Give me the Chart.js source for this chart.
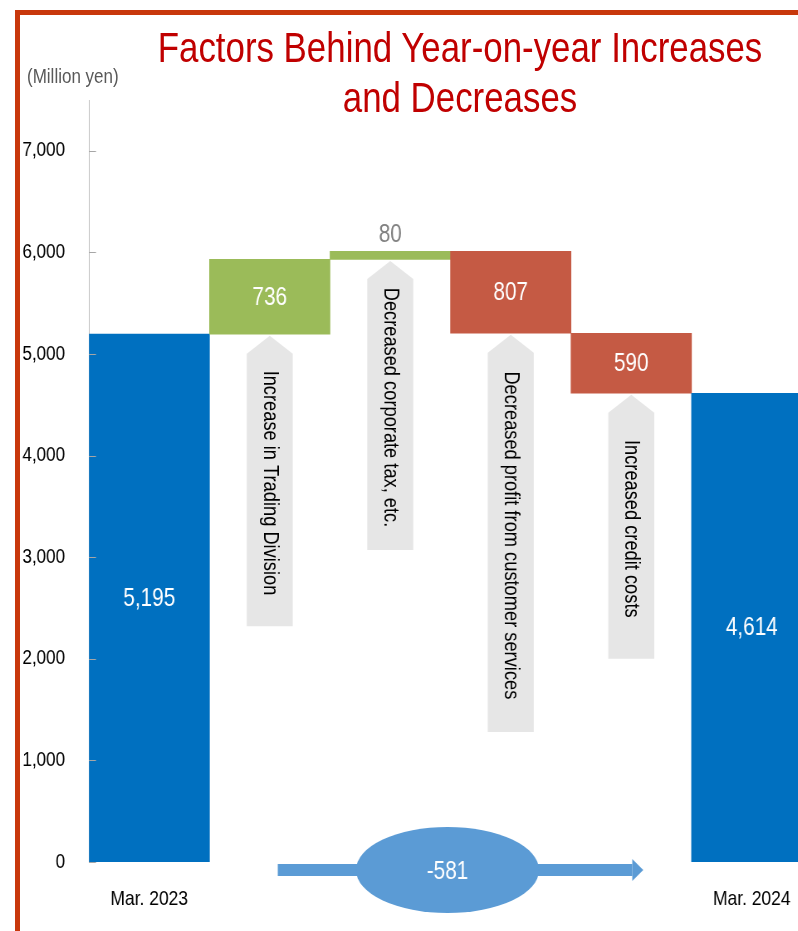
<!DOCTYPE html>
<html>
<head>
<meta charset="utf-8">
<title>Factors Behind Year-on-year Increases and Decreases</title>
<script src="https://cdn.jsdelivr.net/npm/chart.js@4.4.1/dist/chart.umd.min.js"></script>
<style>
  html, body { margin: 0; padding: 0; background: #fff; overflow: hidden; }
  #wrap { position: relative; width: 798px; height: 931px; overflow: hidden; }
  #frame-top { position: absolute; left: 15px; top: 10px; right: 0; height: 5px; background: #C8380C; }
  #frame-left { position: absolute; left: 15px; top: 10px; bottom: 0; width: 5px; background: #C8380C; }
  #title {
    position: absolute; left: 60px; width: 800px; top: 23px;
    text-align: center; white-space: nowrap; color: #C00000;
    font: 42px/50px "Liberation Sans", Arial, sans-serif;
    transform: scaleX(0.83); transform-origin: 400px 0;
  }
  #unit {
    position: absolute; left: 27px; top: 66px; color: #595959; white-space: nowrap;
    font: 20.5px/20px "Liberation Sans", Arial, sans-serif;
    transform: scaleX(0.83); transform-origin: 0 0;
  }
  #grafico { position: absolute; left: 0; top: 0; }
</style>
</head>
<body>
<div id="wrap">
  <!-- canvas is drawn wider and squeezed back to 812px: gives the narrow-font look -->
  <canvas id="grafico" width="978" height="931" style="width: 812px; height: 931px;"></canvas>
  <div id="frame-top"></div>
  <div id="frame-left"></div>
  <div id="title">Factors Behind Year-on-year Increases<br>and Decreases</div>
  <div id="unit">(Million yen)</div>
</div>
<script>
const categories = [
  "Mar. 2023",
  "Increase in Trading Division",
  "Decreased corporate tax, etc.",
  "Decreased profit from customer services",
  "Increased credit costs",
  "Mar. 2024"
];
const amounts = [5195, 736, 80, 807, 590, 4614];
const kinds = ["total", "up", "up", "down", "down", "total"];
const yTicks = [0, 1000, 2000, 3000, 4000, 5000, 6000, 7000];
const netChange = -581;

const K = 812 / 978;   // horizontal squeeze of the canvas
const FONT = "'Liberation Sans', Arial, sans-serif";
const cores = { total: "#0070C0", up: "#9BBB59", down: "#C55A44" };

// floating bars: each step starts where the previous one ended
let nivel = 0;
const ranges = amounts.map((v, i) => {
  if (kinds[i] === "total") { nivel = v; return [0, v]; }
  const de = nivel;
  nivel = kinds[i] === "up" ? nivel + v : nivel - v;
  return [Math.min(de, nivel), Math.max(de, nivel)];
});

const formatar = v => v.toLocaleString("en-US");

const decor = {
  id: "decor",
  afterDatasetsDraw(chart, args, opts) {
    const { ctx } = chart;
    const x = chart.scales.x, y = chart.scales.y;
    const meta = chart.getDatasetMeta(0);

    // tick marks on the inside of the y axis
    ctx.save();
    ctx.strokeStyle = "#A6A6A6";
    ctx.lineWidth = 1;
    yTicks.forEach(t => {
      const py = Math.round(y.getPixelForValue(t)) + 0.5;
      ctx.beginPath();
      ctx.moveTo(x.left, py);
      ctx.lineTo(x.left + 7 / K, py);
      ctx.stroke();
    });
    ctx.restore();

    // value labels
    ctx.save();
    ctx.font = "25px " + FONT;
    ctx.textAlign = "center";
    ctx.textBaseline = "middle";
    meta.data.forEach((bar, i) => {
      const topo = Math.min(bar.y, bar.base), fundo = Math.max(bar.y, bar.base);
      if (fundo - topo < 30) {
        ctx.fillStyle = "#808080";
        ctx.fillText(formatar(amounts[i]), bar.x, topo - 16);
      } else {
        ctx.fillStyle = "#FFFFFF";
        ctx.fillText(formatar(amounts[i]), bar.x, (topo + fundo) / 2 + 1);
      }
    });
    ctx.restore();

    // grey callouts under each step
    ctx.save();
    opts.bottoms.forEach((b, i) => {
      if (b == null) return;
      const bar = meta.data[i];
      const cx = bar.x, meia = 23 / K;
      const ponta = y.getPixelForValue(ranges[i][0]) + 1.5;
      const ombro = ponta + 18;
      const fim = y.getPixelForValue(b);
      ctx.fillStyle = "#E6E6E6";
      ctx.beginPath();
      ctx.moveTo(cx, ponta);
      ctx.lineTo(cx + meia, ombro);
      ctx.lineTo(cx + meia, fim);
      ctx.lineTo(cx - meia, fim);
      ctx.lineTo(cx - meia, ombro);
      ctx.closePath();
      ctx.fill();

      ctx.save();
      ctx.translate(cx, (ponta + fim) / 2 + 2);
      ctx.rotate(Math.PI / 2);
      ctx.scale(K, 1 / K);
      ctx.fillStyle = "#000";
      ctx.font = "22px " + FONT;
      ctx.textAlign = "center";
      ctx.textBaseline = "middle";
      ctx.fillText(categories[i], 0, 0);
      ctx.restore();
    });
    ctx.restore();

    // net change arrow along the bottom
    ctx.save();
    const x0 = x.getPixelForValue(1) + 8 / K;
    const x1 = x.getPixelForValue(4) + 12 / K;
    const yc = y.getPixelForValue(0) + 8;
    const cabeca = 11 / K;
    ctx.fillStyle = "#5B9BD5";
    ctx.fillRect(x0, yc - 6, x1 - cabeca - x0, 12);
    ctx.beginPath();
    ctx.moveTo(x1 - cabeca, yc - 11);
    ctx.lineTo(x1, yc);
    ctx.lineTo(x1 - cabeca, yc + 11);
    ctx.closePath();
    ctx.fill();
    const ex = (x.getPixelForValue(2) + x.getPixelForValue(3)) / 2 - 3 / K;
    ctx.beginPath();
    ctx.ellipse(ex, yc, 91.5 / K, 43, 0, 0, Math.PI * 2);
    ctx.fill();
    ctx.fillStyle = "#FFFFFF";
    ctx.font = "25px " + FONT;
    ctx.textAlign = "center";
    ctx.textBaseline = "middle";
    ctx.fillText(formatar(netChange), ex, yc + 2);
    ctx.restore();
  }
};

new Chart(document.getElementById("grafico").getContext("2d"), {
  type: "bar",
  data: {
    labels: categories,
    datasets: [{
      data: ranges,
      backgroundColor: kinds.map(k => cores[k]),
      borderWidth: 0,
      barPercentage: 1,
      categoryPercentage: 1
    }]
  },
  options: {
    responsive: false,
    animation: false,
    devicePixelRatio: 1,
    layout: { padding: { top: 100, left: 0, right: 0, bottom: 0 } },
    plugins: {
      legend: { display: false },
      tooltip: { enabled: false },
      decor: { bottoms: [null, 2320, 3070, 1280, 2000, null] }
    },
    scales: {
      x: {
        grid: { display: false, drawTicks: false },
        border: { display: false },
        ticks: {
          autoSkip: false,
          maxRotation: 0,
          padding: 25,
          color: "#000",
          font: { family: FONT, size: 21 },
          callback: (v, i) => kinds[i] === "total" ? categories[i] : ""
        },
        afterFit: s => { s.height = 69; s.paddingLeft = 0; s.paddingRight = 0; }
      },
      y: {
        min: 0,
        max: 7500,
        grid: { display: false, drawTicks: false },
        border: { display: true, color: "#BFBFBF", width: 1 },
        afterBuildTicks: s => { s.ticks = yTicks.map(v => ({ value: v })); },
        ticks: {
          padding: 24 / K,
          color: "#000",
          font: { family: FONT, size: 20.5 },
          callback: v => formatar(v)
        },
        afterFit: s => { s.width = 89 / K; s.paddingTop = 0; s.paddingBottom = 0; }
      }
    }
  },
  plugins: [decor]
});
</script>
</body>
</html>
